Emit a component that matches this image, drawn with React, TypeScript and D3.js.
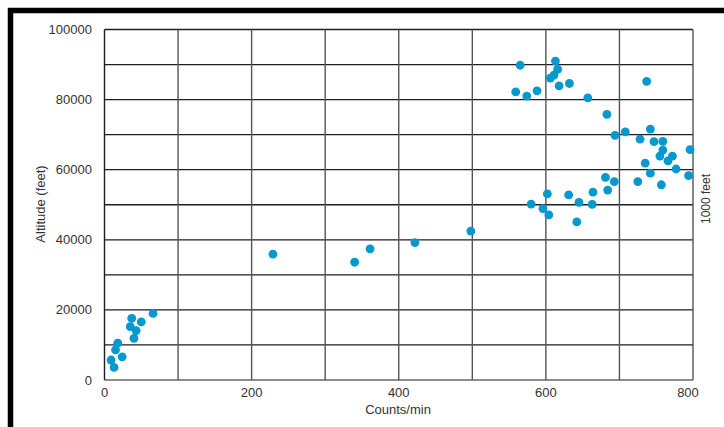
import React, { useEffect, useRef } from "react";
import * as d3 from "d3";

// counts per minute (x) and altitude in feet (y)
const counts = [
  9, 13, 15, 18, 24, 35, 37, 40, 43, 50, 66,
  229, 340, 361, 422, 498,
  565, 613, 616, 611, 606, 618, 632, 559, 574, 588, 657, 737,
  683, 694, 708, 742, 728, 747, 759, 759, 755, 772, 766, 796,
  735, 777, 742, 794, 681, 693, 725, 757, 684, 664, 631, 602,
  645, 663, 596, 604, 642, 580,
];
const altitude = [
  5700, 3600, 8600, 10500, 6600, 15200, 17600, 11900, 14100, 16600, 19000,
  35900, 33600, 37400, 39200, 42500,
  89800, 91000, 88600, 87000, 86100, 83900, 84600, 82200, 81000, 82500, 80500, 85200,
  75800, 69800, 70800, 71600, 68700, 68000, 68100, 65600, 63900, 63900, 62500, 65700,
  61900, 60200, 59000, 58300, 57800, 56600, 56600, 55700, 54200, 53600, 52800, 53100,
  50700, 50100, 48900, 47100, 45100, 50200,
];

const xTicks = [0, 200, 400, 600, 800];
const yTicks = [0, 20000, 40000, 60000, 80000, 100000];
const xGrid = [0, 100, 200, 300, 400, 500, 600, 700, 800];
const yGrid = [0, 10000, 20000, 30000, 40000, 50000, 60000, 70000, 80000, 90000, 100000];

const W = 724;
const H = 427;
const FONT = "'Liberation Sans', Arial, Helvetica, sans-serif";

function AltitudeChart() {
  const svgRef = useRef<SVGSVGElement>(null);

  useEffect(() => {
    const svg = d3.select(svgRef.current);
    svg.selectAll("*").remove();

    const x = d3.scaleLinear().domain([0, 800]).range([104.5, 693]);
    const y = d3.scaleLinear().domain([0, 100000]).range([380, 29.5]);

    svg.append("rect").attr("width", W).attr("height", H).attr("fill", "#fff");

    // thick frame, only top and left edges show
    svg.append("path")
      .attr("d", `M10.5,${H} V10.5 H${W}`)
      .attr("fill", "none")
      .attr("stroke", "#000")
      .attr("stroke-width", 5.5);

    // grid
    svg.append("g").selectAll("line")
      .data(yGrid)
      .join("line")
      .attr("x1", x(0)).attr("x2", x(800))
      .attr("y1", d => y(d)).attr("y2", d => y(d))
      .attr("stroke", d => (d === 0 ? "#666" : "#1e1e1e"))
      .attr("stroke-width", 1.3);

    svg.append("g").selectAll("line")
      .data(xGrid)
      .join("line")
      .attr("x1", d => x(d)).attr("x2", d => x(d))
      .attr("y1", y(0)).attr("y2", y(100000))
      .attr("stroke", d => (d === 0 ? "#1e1e1e" : "#555"))
      .attr("stroke-width", 1.4);

    const label = (sel: any, size = 13) =>
      sel.style("font-family", FONT).style("font-size", size + "px").attr("fill", "#333");

    // tick labels
    svg.append("g").selectAll("text")
      .data(yTicks)
      .join("text")
      .attr("x", 92)
      .attr("y", d => y(d))
      .attr("dy", "0.35em")
      .attr("text-anchor", "end")
      .call(label)
      .text(d => d);

    svg.append("g").selectAll("text")
      .data(xTicks)
      .join("text")
      .attr("x", d => x(d) - (d === 800 ? 5 : 0))
      .attr("y", 392)
      .attr("dy", "0.35em")
      .attr("text-anchor", "middle")
      .call(label)
      .text(d => d);

    // axis titles
    svg.append("text")
      .attr("x", 398).attr("y", 409)
      .attr("dy", "0.35em")
      .attr("text-anchor", "middle")
      .call(label)
      .text("Counts/min");

    svg.append("text")
      .attr("transform", "translate(40,204) rotate(-90)")
      .attr("dy", "0.35em")
      .attr("text-anchor", "middle")
      .call(label)
      .text("Altitude (feet)");

    svg.append("text")
      .attr("transform", "translate(706,199) rotate(-90)")
      .attr("dy", "0.35em")
      .attr("text-anchor", "middle")
      .call(label, 12)
      .text("1000 feet");

    // points
    svg.append("g").selectAll("circle")
      .data(counts.map((c, i) => [c, altitude[i]]))
      .join("circle")
      .attr("cx", d => x(d[0]))
      .attr("cy", d => y(d[1]))
      .attr("r", 4.4)
      .attr("fill", "#0798ce");
  }, []);

  return <svg ref={svgRef} width={W} height={H} style={{ display: "block" }} />;
}

export default function App() {
  useEffect(() => {
    document.body.style.margin = "0";
  }, []);
  return <AltitudeChart />;
}
